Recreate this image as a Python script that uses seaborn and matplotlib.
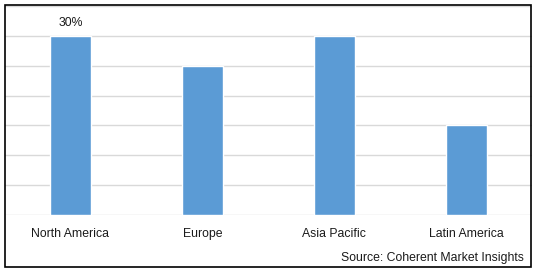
import matplotlib
matplotlib.use("Agg")
import matplotlib.pyplot as plt
import seaborn as sns
import pandas as pd
from matplotlib.patches import Rectangle

regions = ["North America", "Europe", "Asia Pacific", "Latin America"]
shares = [30, 25, 30, 15]
labels = ["30%", "", "", ""]

sns.set_theme(style="white")
plt.rcParams['font.family'] = ['Liberation Sans', 'DejaVu Sans']

df = pd.DataFrame({"region": regions, "share": shares})

fig = plt.figure(figsize=(5.38, 2.72), dpi=100)
ax = fig.add_axes([4.5/538, 1-215/272, (532-4.5)/538, (215-6)/272])
sns.barplot(data=df, x="region", y="share", color="#5b9bd5", saturation=1,
            width=0.31, ax=ax, zorder=3)
ax.set_ylim(0, 35)
ax.set_xlim(-0.5, 3.5)
ax.set_yticks([0, 5, 10, 15, 20, 25, 30, 35])
ax.yaxis.grid(True, color="#d9d9d9", linewidth=1)
ax.set_axisbelow(True)
ax.set_yticklabels([])
ax.tick_params(axis="y", length=0)
ax.tick_params(axis="x", length=0, labelsize=8.8, colors="#1a1a1a", pad=9.5)
ax.set_xlabel("")
ax.set_ylabel("")
for s in ax.spines.values():
    s.set_visible(False)
for i, (v, lab) in enumerate(zip(shares, labels)):
    if lab:
        ax.text(i, v + 2.2, lab, ha="center", va="center", fontsize=8.8, color="#1a1a1a")

fig.text(524/538, 1-258/272, "Source: Coherent Market Insights", ha="right", va="center",
         fontsize=8.8, color="#1a1a1a")
fig.patches.append(Rectangle((5/538, 5/272), (531-5)/538, (267-5)/272, transform=fig.transFigure,
                             fill=False, edgecolor="black", linewidth=1.2))
fig.savefig("out.png", dpi=100)
